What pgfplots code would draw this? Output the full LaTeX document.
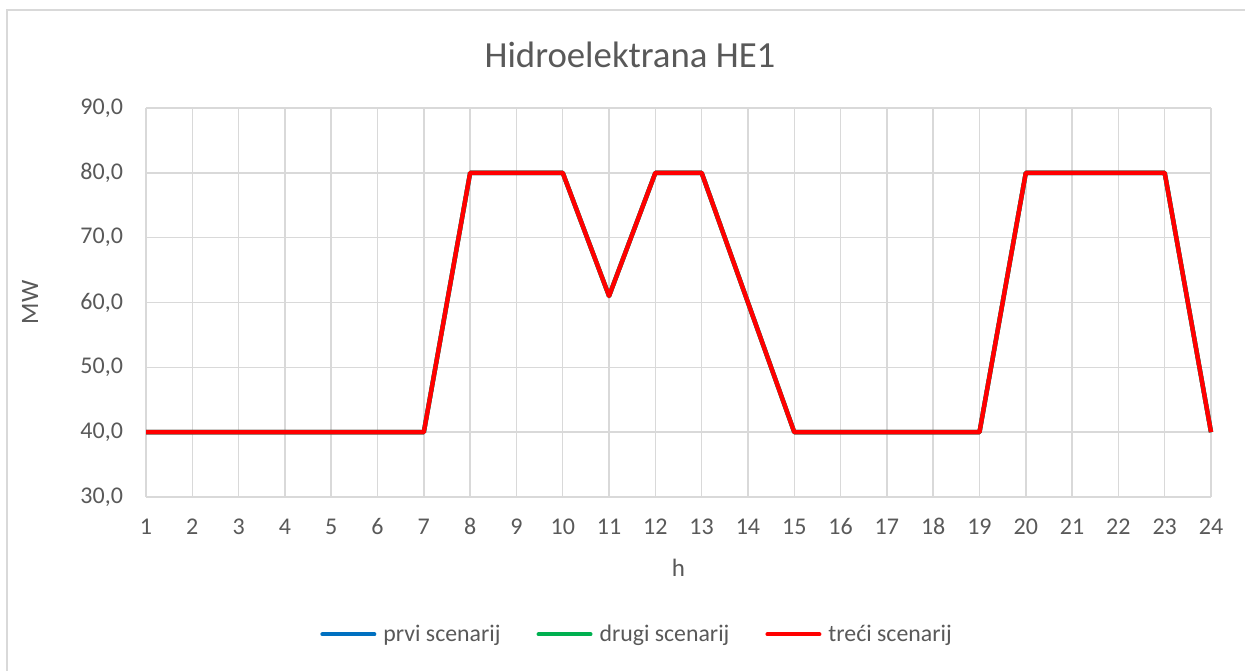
\documentclass[border=0pt]{standalone}
\usepackage{pgfplots}
\pgfplotsset{compat=1.18}
\usepackage{fontspec}
\setmainfont{Carlito}
\definecolor{txt}{HTML}{595959}
\definecolor{gridc}{HTML}{D9D9D9}
\definecolor{s1}{HTML}{0070C0}
\definecolor{s2}{HTML}{00B050}
\definecolor{s3}{HTML}{FF0000}
\pgfplotstableread{
h v
1 40
2 40
3 40
4 40
5 40
6 40
7 40
8 80
9 80
10 80
11 61
12 80
13 80
14 60
15 40
16 40
17 40
18 40
19 40
20 80
21 80
22 80
23 80
24 40
}\data
\begin{document}
\begin{tikzpicture}
\useasboundingbox (0,0) rectangle (622.5pt,335pt);
\draw[gridc, line width=0.75pt] (3.5pt,-1pt) -- (3.5pt,330pt) -- (623pt,330pt);
\node[txt, font=\fontsize{18.4}{22}\selectfont] at (315pt,307.5pt) {Hidroelektrana HE1};
\begin{axis}[
  at={(73pt,86.5pt)}, anchor=south west,
  scale only axis, width=532.5pt, height=194.5pt,
  xmin=1, xmax=24, ymin=30, ymax=90,
  xtick={1,...,24}, ytick={30,40,...,90},
  grid=major, major grid style={gridc, line width=0.75pt},
  axis line style={draw=none},
  major tick length=0pt,
  tick label style={txt, font=\fontsize{12}{14}\selectfont},
  /pgf/number format/assume math mode=true,
  yticklabel={\pgfmathprintnumber[fixed, fixed zerofill, precision=1, use comma]{\tick}},
  xticklabel style={anchor=north, text height=7.8pt, text depth=0pt, yshift=-7.5pt},
  yticklabel style={xshift=-8pt},
  xlabel={h}, ylabel={MW},
  label style={txt, font=\fontsize{12.5}{15}\selectfont},
  xlabel style={at={(axis description cs:0.5,0)}, anchor=center, yshift=-35.5pt},
  ylabel style={at={(axis description cs:0,0.5)}, anchor=center, yshift=58pt},
  legend style={at={(axis description cs:0.462,-0.353)}, anchor=center, draw=none, fill=none,
    font=\fontsize{11.9}{14}\selectfont, text=txt, legend columns=3,
    /tikz/every odd column/.append style={column sep=1.5pt},
    /tikz/every even column/.append style={column sep=16pt}},
  legend image code/.code={\draw[#1, line width=2pt, line cap=round] (0pt,0pt) -- (26pt,0pt);},
  clip=false,
]
\addplot[s1, line width=2.2pt, line join=round] table[x=h, y=v] {\data};
\addlegendentry{prvi scenarij}
\addplot[s2, line width=2.2pt, line join=round] table[x=h, y=v] {\data};
\addlegendentry{drugi scenarij}
\addplot[s3, line width=2.2pt, line join=round] table[x=h, y=v] {\data};
\addlegendentry{treći scenarij}
\end{axis}
\end{tikzpicture}
\end{document}
